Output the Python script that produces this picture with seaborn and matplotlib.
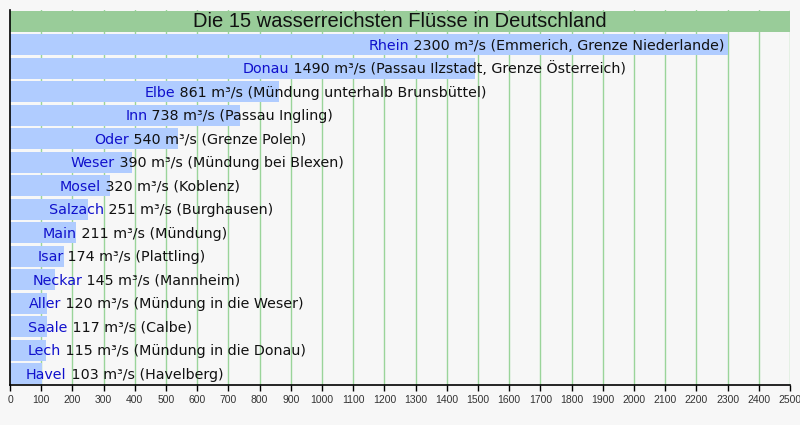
"""
Die 15 wasserreichsten Flüsse in Deutschland — horizontales Balkendiagramm
"""

import matplotlib
matplotlib.use("Agg")
import matplotlib.pyplot as plt
import pandas as pd
import seaborn as sns

# Daten
fluesse = ["Rhein", "Donau", "Elbe", "Inn", "Oder", "Weser", "Mosel", "Salzach",
           "Main", "Isar", "Neckar", "Aller", "Saale", "Lech", "Havel"]
abfluss = [2300, 1490, 861, 738, 540, 390, 320, 251, 211, 174, 145, 120, 117, 115, 103]
messort = ["Emmerich, Grenze Niederlande", "Passau Ilzstadt, Grenze Österreich",
           "Mündung unterhalb Brunsbüttel", "Passau Ingling", "Grenze Polen",
           "Mündung bei Blexen", "Koblenz", "Burghausen", "Mündung", "Plattling",
           "Mannheim", "Mündung in die Weser", "Calbe", "Mündung in die Donau",
           "Havelberg"]
x_ticks = list(range(0, 2600, 100))
titel = "Die 15 wasserreichsten Flüsse in Deutschland"

FARBEN = {
    "hintergrund": "#F7F7F7",
    "balken": "#B0CCFF",
    "titel": "#99CC99",
    "gitter": "#9AD49A",
    "name": "#1010CC",
}

sns.set_theme(style="white")
plt.rcParams["font.family"] = ["Liberation Sans", "DejaVu Sans"]

df = pd.DataFrame({"fluss": fluesse, "abfluss": abfluss, "ort": messort})

fig = plt.figure(figsize=(8, 4.25), dpi=100, facecolor=FARBEN["hintergrund"])
ax = fig.add_axes([10 / 800, 40 / 425, 780 / 800, 375 / 425])
ax.set_facecolor(FARBEN["hintergrund"])

sns.barplot(data=df, x="abfluss", y="fluss", orient="h", color=FARBEN["balken"],
            width=0.89, saturation=1, ax=ax)
for p in ax.patches:
    p.set_zorder(2)
    p.set_linewidth(0)

# Gitterlinien hinter den Balken
ax.vlines(x_ticks[1:], -1.6, 14.6, colors=FARBEN["gitter"], lw=1, zorder=1)

ax.set_xlim(0, 2500)
ax.set_ylim(14.48, -1.47)

# Titelband
ax.axhspan(-1.43, -0.53, color=FARBEN["titel"], zorder=3, lw=0)
ax.text(1250, -0.98, titel, ha="center", va="center", fontsize=14.5,
        color="#111111", zorder=4)

ax.set_xticks(x_ticks)
ax.set_xticklabels([str(t) for t in x_ticks], fontsize=7.5, color="#333333")
ax.tick_params(axis="x", length=4, width=1, color="black", pad=3, bottom=True)
ax.set_yticks([])
ax.set_xlabel("")
ax.set_ylabel("")

for side in ["top", "right"]:
    ax.spines[side].set_visible(False)
for side in ["left", "bottom"]:
    ax.spines[side].set_color("black")
    ax.spines[side].set_linewidth(1.2)
    ax.spines[side].set_zorder(5)

# Beschriftungen: Name (blau) ab der Balkenmitte, danach Wert und Ort
for i, (name, wert, ort) in enumerate(zip(fluesse, abfluss, messort)):
    t = ax.text(wert / 2, i + 0.22, name, ha="left", va="baseline",
                fontsize=10.3, family="DejaVu Sans", color=FARBEN["name"], zorder=4)
    ax.annotate(f" {wert} m³/s ({ort})", xy=(1, i + 0.22),
                xycoords=(t, "data"), ha="left", va="baseline",
                fontsize=10.3, family="DejaVu Sans", color="#111111", zorder=4)

fig.savefig("out.png", dpi=100, facecolor=FARBEN["hintergrund"])
